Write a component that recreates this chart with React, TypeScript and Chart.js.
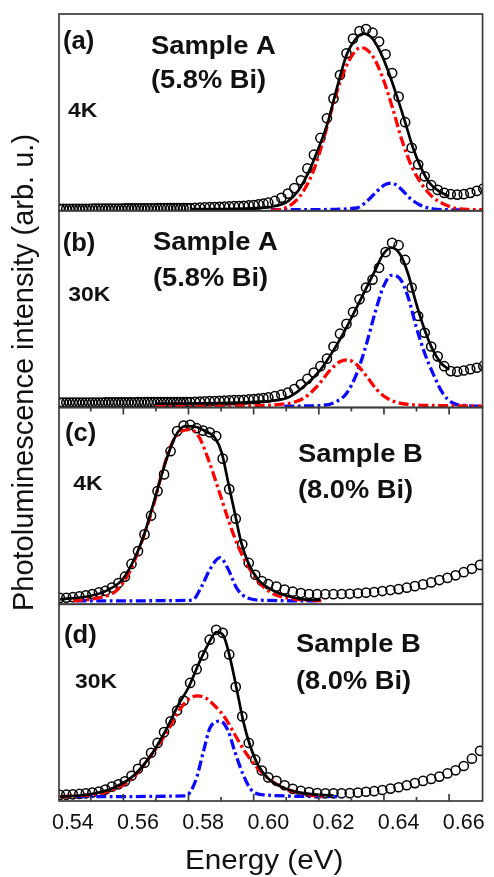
import { useEffect, useRef } from "react";
import { Chart, registerables } from "chart.js";

Chart.register(...registerables);

const SANS = "'Liberation Sans', Arial, Helvetica, sans-serif";

// ---- axis ----
const X_MIN = 0.53575;
const X_MAX = 0.66577;
const X_TICK_LABELS = [0.54, 0.56, 0.58, 0.6, 0.62, 0.64, 0.66];
const MAJOR_TICKS = [0.5555, 0.5755, 0.5955, 0.6155, 0.6355, 0.6555];
const MINOR_TICKS = [0.5455, 0.5655, 0.5855, 0.6055, 0.6255, 0.6455];

// ---- texts ----
const PANEL_LETTERS = ["(a)", "(b)", "(c)", "(d)"];
const SAMPLE_NAMES = ["Sample A", "Sample A", "Sample B", "Sample B"];
const BI_CONTENT = ["(5.8% Bi)", "(5.8% Bi)", "(8.0% Bi)", "(8.0% Bi)"];
const TEMPS = ["4K", "30K", "4K", "30K"];
const X_TITLE = "Energy (eV)";
const Y_TITLE = "Photoluminescence intensity (arb. u.)";

// ---- Sample A measured data (circles) ----
const energyA = [
  0.536, 0.537, 0.538, 0.539, 0.54, 0.541, 0.542, 0.543, 0.544, 0.545,
  0.546, 0.547, 0.548, 0.549, 0.55, 0.551, 0.552, 0.553, 0.554, 0.555,
  0.556, 0.557, 0.558, 0.559, 0.56, 0.561, 0.562, 0.563, 0.564, 0.565,
  0.566, 0.567, 0.568, 0.569, 0.57, 0.571, 0.572, 0.573, 0.574, 0.575, 0.576,
  0.5775, 0.579, 0.5805, 0.582, 0.5835, 0.585, 0.5865, 0.588, 0.5895, 0.591,
  0.5925, 0.594, 0.5955, 0.597, 0.5985, 0.6,
  0.602, 0.604, 0.606, 0.608, 0.61, 0.612, 0.614, 0.616, 0.618, 0.62,
  0.622, 0.624, 0.626, 0.628, 0.63, 0.632, 0.634, 0.636, 0.638, 0.64,
  0.642, 0.644, 0.646, 0.648, 0.65, 0.652, 0.654, 0.656, 0.658, 0.66,
  0.662, 0.664, 0.666,
];
const pl_A_4K = [
  1.0, 1.0, 1.0, 1.0, 1.0, 1.0, 1.0, 1.0, 1.0, 1.0,
  1.1, 1.1, 1.1, 1.1, 1.1, 1.1, 1.1, 1.1, 1.1, 1.1,
  1.2, 1.2, 1.2, 1.2, 1.2, 1.2, 1.2, 1.2, 1.2, 1.2,
  1.3, 1.3, 1.3, 1.3, 1.3, 1.3, 1.4, 1.4, 1.4, 1.4, 1.4,
  1.5, 1.6, 1.7, 1.8, 1.9, 2.0, 2.1, 2.2, 2.3, 2.4,
  2.5, 2.7, 2.9, 3.2, 3.6, 4.1,
  5.0, 6.6, 8.7, 11.5, 15.5, 21.5, 28.5, 37, 47, 57,
  69, 80, 87.5, 91.3, 92.3, 90.5, 86, 79.5, 70, 58,
  45, 32, 23.5, 17.5, 13, 10.6, 9.1, 8.4, 8.2, 8.4,
  9.1, 10.1, 11.3,
];
const pl_A_30K = [
  2.5, 2.5, 2.5, 2.5, 2.5, 2.5, 2.5, 2.5, 2.5, 2.5,
  2.5, 2.5, 2.5, 2.5, 2.6, 2.6, 2.6, 2.6, 2.6, 2.6,
  2.6, 2.6, 2.6, 2.6, 2.7, 2.7, 2.7, 2.7, 2.7, 2.7,
  2.7, 2.7, 2.7, 2.7, 2.8, 2.8, 2.8, 2.8, 2.8, 2.8, 2.8,
  2.9, 3.0, 3.1, 3.2, 3.3, 3.4, 3.5, 3.6, 3.7, 3.8,
  3.9, 4.1, 4.3, 4.5, 4.8, 5.1,
  5.8, 6.5, 7.6, 9.4, 11.8, 14.5, 17.8, 21, 24.8, 31,
  37.5, 42.5, 48.5, 55, 61, 65, 71, 79, 83.7, 82.5,
  75, 61, 46.5, 38, 31, 26, 21, 18.5, 18.2, 18.8,
  19.5, 20.2, 21,
];

// ---- Sample B measured data (circles) ----
const energyB = [
  0.536, 0.538, 0.54, 0.542, 0.544, 0.546, 0.548, 0.55, 0.552, 0.554,
  0.556, 0.558, 0.56, 0.562, 0.564, 0.566, 0.568, 0.57, 0.572, 0.574,
  0.576, 0.578, 0.58, 0.582, 0.584, 0.586, 0.588, 0.59, 0.592, 0.594,
  0.596, 0.598, 0.6, 0.6025, 0.605, 0.6075, 0.61, 0.6125, 0.615, 0.6175,
  0.62, 0.6225, 0.625, 0.6275, 0.63, 0.6325, 0.635, 0.6375, 0.64, 0.6425,
  0.645, 0.6475, 0.65, 0.6525, 0.655, 0.6575, 0.66, 0.6625, 0.665,
];
const pl_B_4K = [
  3.2, 3.3, 3.6, 4.0, 4.5, 5.2, 6.0, 6.8, 8.5, 10.8,
  14, 20.5, 27, 35.5, 45, 57.5, 66, 77.8, 88, 90.8,
  91.2, 89.5, 88.2, 87.4, 85.5, 74, 58.5, 43.5, 30.5, 21,
  15, 11.8, 10.2, 9.0, 7.5, 6.4, 5.7, 5.2, 5.1, 5.1,
  5.1, 5.2, 5.3, 5.6, 5.9, 6.2, 6.7, 7.2, 7.7, 8.4,
  9.2, 10.1, 11.1, 12.3, 13.4, 14.7, 16.3, 18.0, 20.0,
];
const pl_B_30K = [
  3.1, 3.2, 3.4, 3.6, 3.9, 4.3, 4.8, 5.8, 7.3, 8.5,
  10.0, 12.8, 16.4, 19.5, 24.5, 29.5, 35, 40.5, 46, 51,
  60, 67, 74, 82, 87, 85.5, 74.5, 58, 43, 29.5,
  21, 15.5, 12, 10.3, 8.0, 6.2, 5.1, 4.5, 4.0, 3.9,
  3.9, 3.9, 4.0, 4.3, 4.7, 5.0, 5.6, 6.3, 7.0, 8.0,
  9.1, 10.2, 11.2, 12.4, 14.0, 15.6, 17.8, 21.5, 25.5,
];

// ---- fits: total (black), component 1 (red), component 2 (blue) ----
const fitA4K_x = [0.5765, 0.59, 0.598, 0.6009, 0.6059, 0.609, 0.612, 0.615, 0.6181, 0.6211, 0.6241, 0.6267, 0.6292, 0.6317, 0.6343, 0.6368, 0.6393, 0.6419, 0.6444, 0.6469, 0.6495, 0.6525, 0.6555];
const fitA4K_y = [0.8, 1.0, 1.5, 2.0, 4.7, 9.8, 18.4, 30, 44, 62.6, 79.6, 87, 90, 88, 81, 71, 59, 45.6, 32, 21.8, 14.1, 9.8, 7.3];
const redA4K_x = [0.6008, 0.6036, 0.6077, 0.6107, 0.6138, 0.6168, 0.6199, 0.6229, 0.626, 0.6285, 0.632, 0.6351, 0.6381, 0.6411, 0.6442, 0.6472, 0.6502, 0.6543, 0.6583, 0.6658];
const redA4K_y = [0.3, 0.6, 3.9, 9.8, 20, 35.4, 54, 69.4, 79.6, 83, 78.7, 67.7, 52.4, 35.4, 21.8, 13.3, 7.3, 3.1, 1.0, 0.5];
const blueA4K_x = [0.6008, 0.615, 0.6272, 0.6302, 0.6333, 0.6358, 0.6378, 0.6404, 0.6434, 0.6464, 0.6505, 0.6555, 0.6615];
const blueA4K_y = [0.5, 0.6, 1.4, 4.7, 9.8, 13.3, 14.1, 11.6, 6.5, 3.1, 1.0, 0.5, 0.4];

const fitA30K_x = [0.5654, 0.585, 0.598, 0.6009, 0.6059, 0.611, 0.616, 0.6201, 0.6241, 0.6282, 0.6323, 0.6353, 0.6378, 0.6404, 0.6429, 0.6454, 0.648, 0.6505, 0.653, 0.6555];
const fitA30K_y = [2.0, 2.2, 3.0, 3.4, 4.9, 10.8, 19.2, 29.3, 41, 54.5, 68, 78, 81.2, 78, 68, 52.9, 39.4, 29.3, 22.6, 19.2];
const redA30K_x = [0.5654, 0.59, 0.6059, 0.611, 0.615, 0.6191, 0.6221, 0.6243, 0.6272, 0.6302, 0.6333, 0.6363, 0.6393, 0.6434, 0.6515, 0.6657];
const redA30K_y = [0.5, 0.8, 2.0, 4.9, 10.8, 19.2, 23.4, 24.2, 21.7, 15.8, 9.1, 4.9, 2.7, 1.5, 1.0, 0.7];
const blueA30K_x = [0.6049, 0.616, 0.6211, 0.6241, 0.6272, 0.6302, 0.6327, 0.6353, 0.6378, 0.6404, 0.6429, 0.6454, 0.648, 0.6505, 0.6535, 0.6565, 0.6606, 0.6657];
const blueA30K_y = [0.7, 1.0, 3.2, 7.4, 17.5, 32.7, 47.8, 61.3, 67.2, 65.5, 56.2, 41, 27.6, 17.5, 7.4, 2.4, 1.0, 0.7];

const fitB4K_x = [0.5361, 0.5452, 0.5502, 0.5553, 0.5593, 0.5624, 0.5654, 0.5684, 0.5715, 0.5745, 0.5776, 0.5806, 0.5836, 0.5857, 0.5877, 0.5897, 0.5917, 0.5938, 0.5968, 0.6008, 0.6059, 0.6109, 0.616];
const fitB4K_y = [2.5, 4.2, 6.8, 12.7, 24.5, 38, 55, 72, 85.4, 90.5, 90.2, 88, 84.6, 77, 61.8, 46.5, 31.3, 21.2, 12.7, 7.6, 4.2, 2.5, 2.2];
const redB4K_x = [0.5401, 0.5482, 0.5533, 0.5573, 0.5614, 0.5644, 0.5674, 0.5705, 0.5735, 0.576, 0.5786, 0.5816, 0.5847, 0.5877, 0.5907, 0.5938, 0.5968, 0.6008, 0.6069, 0.6165];
const redB4K_y = [1.7, 3.4, 6.8, 16.1, 33, 48.2, 66.8, 82, 88, 88.8, 85.4, 73.6, 58.4, 43.1, 29.6, 19.4, 11.8, 5.9, 2.9, 1.7];
const blueB4K_x = [0.5411, 0.5765, 0.5796, 0.5821, 0.5852, 0.5877, 0.5902, 0.5933, 0.5988, 0.615];
const blueB4K_y = [1.7, 2.0, 9.3, 17.8, 23.7, 17.8, 8.5, 3.4, 2.0, 1.7];

const fitB30K_x = [0.5361, 0.5452, 0.5522, 0.5583, 0.5634, 0.5684, 0.5725, 0.5755, 0.5786, 0.5816, 0.5841, 0.5862, 0.5882, 0.5902, 0.5923, 0.5943, 0.5968, 0.5999, 0.6039, 0.609, 0.616, 0.6201];
const fitB30K_y = [2.2, 3.4, 6.5, 12.4, 21.9, 35.5, 49.2, 57.7, 69.6, 79.9, 85.9, 84.1, 73.1, 57.7, 40.6, 28.7, 18.4, 11.6, 7.3, 4.5, 3.1, 2.8];
const redB30K_x = [0.5361, 0.5452, 0.5522, 0.5583, 0.5634, 0.5684, 0.5725, 0.5755, 0.5781, 0.5806, 0.5836, 0.5867, 0.5897, 0.5928, 0.5958, 0.5999, 0.6049, 0.611, 0.617];
const redB30K_y = [2.2, 3.1, 5.6, 11.6, 21.9, 33.8, 45.7, 51.7, 53.4, 52.6, 48.3, 42.3, 33.8, 25.2, 18.4, 11.6, 6.5, 3.6, 2.2];
const blueB30K_x = [0.5411, 0.5745, 0.5776, 0.5801, 0.5821, 0.5852, 0.5877, 0.5897, 0.5923, 0.5948, 0.5988, 0.6211];
const blueB30K_y = [2.2, 2.6, 9.9, 25.2, 37.2, 40.6, 35.5, 25.2, 13.3, 5.6, 3.1, 2.2];

function pts(xs: number[], ys: number[]) {
  return xs.map((x, i) => ({ x, y: ys[i] }));
}

const TEXT_COLOR = "#111111";
const FRAME_COLOR = "#3c3c3c";

function drawText(ctx: CanvasRenderingContext2D, text: string, x: number, y: number, font: string, sx = 1) {
  ctx.save();
  ctx.font = font;
  ctx.textAlign = "left";
  ctx.textBaseline = "alphabetic";
  ctx.fillStyle = TEXT_COLOR;
  ctx.translate(x, y);
  ctx.scale(sx, 1);
  ctx.fillText(text, 0, 0);
  ctx.restore();
}

const overlayPlugin = {
  id: "overlay",
  afterDatasetsDraw(chart: any) {
    const ctx: CanvasRenderingContext2D = chart.ctx;
    const { left, right } = chart.chartArea;
    const ids = ["ya", "yb", "yc", "yd"];
    ctx.save();
    ctx.strokeStyle = FRAME_COLOR;
    ctx.lineWidth = 1.7;
    ids.forEach((id) => {
      const s = chart.scales[id];
      ctx.strokeRect(left, s.top, right - left, s.bottom - s.top);
    });
    const xs = chart.scales.x;
    const topC = chart.scales.yc.top;
    const botD = chart.scales.yd.bottom;
    const tick = (v: number, len: number) => {
      const px = xs.getPixelForValue(v);
      ctx.beginPath();
      ctx.moveTo(px, topC);
      ctx.lineTo(px, topC + len);
      ctx.moveTo(px, botD);
      ctx.lineTo(px, botD - len);
      ctx.stroke();
    };
    MAJOR_TICKS.forEach((v) => tick(v, 7));
    MINOR_TICKS.forEach((v) => tick(v, 4));
    ctx.restore();

    const bigB = `bold 25.6px ${SANS}`;
    const tempB = `bold 20.5px ${SANS}`;
    // panel annotations [letterX, letterY, sampleX, sampleY, biY, tempX, tempY]
    const pos = [
      [63, 48.5, 151, 53.5, 87.5, 68, 116.7],
      [62.7, 250.5, 153, 250, 286, 68.3, 301],
      [65, 441, 298, 461.7, 497.5, 73.3, 490],
      [64, 642.5, 296, 651.7, 689.3, 75, 688.3],
    ];
    pos.forEach((p, i) => {
      drawText(ctx, PANEL_LETTERS[i], p[0], p[1], bigB, 1);
      drawText(ctx, SAMPLE_NAMES[i], p[2], p[3], bigB, 1.07);
      drawText(ctx, BI_CONTENT[i], p[2], p[4], bigB, 1.065);
      drawText(ctx, TEMPS[i], p[5], p[6], tempB, 1.12);
    });

    // axis titles
    drawText(ctx, X_TITLE, 185, 869.3, `27px ${SANS}`, 1.1);
    ctx.save();
    ctx.font = `29px ${SANS}`;
    ctx.fillStyle = TEXT_COLOR;
    ctx.textAlign = "center";
    ctx.textBaseline = "alphabetic";
    ctx.translate(33, 372.5);
    ctx.rotate(-Math.PI / 2);
    ctx.fillText(Y_TITLE, 0, 0);
    ctx.restore();
  },
};

export default function App() {
  const ref = useRef<HTMLCanvasElement>(null);

  useEffect(() => {
    if (!ref.current) return;
    const panels = [
      { id: "ya", e: energyA, d: pl_A_4K, fx: fitA4K_x, fy: fitA4K_y, rx: redA4K_x, ry: redA4K_y, bx: blueA4K_x, by: blueA4K_y },
      { id: "yb", e: energyA, d: pl_A_30K, fx: fitA30K_x, fy: fitA30K_y, rx: redA30K_x, ry: redA30K_y, bx: blueA30K_x, by: blueA30K_y },
      { id: "yc", e: energyB, d: pl_B_4K, fx: fitB4K_x, fy: fitB4K_y, rx: redB4K_x, ry: redB4K_y, bx: blueB4K_x, by: blueB4K_y },
      { id: "yd", e: energyB, d: pl_B_30K, fx: fitB30K_x, fy: fitB30K_y, rx: redB30K_x, ry: redB30K_y, bx: blueB30K_x, by: blueB30K_y },
    ];
    const datasets: any[] = [];
    panels.forEach((p) => {
      datasets.push({
        data: pts(p.fx, p.fy), yAxisID: p.id, borderColor: "#000", borderWidth: 2.7,
        pointRadius: 0, cubicInterpolationMode: "monotone", fill: false, order: 0,
      });
      datasets.push({
        data: pts(p.rx, p.ry), yAxisID: p.id, borderColor: "#ff0000", borderWidth: 3.3,
        borderDash: [10, 3.5, 2.8, 3.5], borderCapStyle: "butt",
        pointRadius: 0, cubicInterpolationMode: "monotone", fill: false, order: 1,
      });
      datasets.push({
        data: pts(p.bx, p.by), yAxisID: p.id, borderColor: "#0a0aff", borderWidth: 3.3,
        borderDash: [10, 3.5, 2.8, 3.5], borderCapStyle: "butt",
        pointRadius: 0, cubicInterpolationMode: "monotone", fill: false, order: 2,
      });
      datasets.push({
        data: pts(p.e, p.d), yAxisID: p.id, showLine: false,
        pointRadius: 4.6, pointBorderWidth: 1.5, pointBorderColor: "#000",
        pointBackgroundColor: "rgba(0,0,0,0)", pointStyle: "circle", order: 3,
      });
    });

    const yAxis = () => ({
      type: "linear", position: "left", stack: "panels", stackWeight: 1,
      min: 0, max: 100,
      ticks: { display: false },
      grid: { display: false, drawTicks: false },
      border: { display: false },
      afterFit: (s: any) => { s.width = 0; },
    });

    const chart = new Chart(ref.current, {
      type: "line",
      data: { datasets },
      options: {
        responsive: false,
        animation: false,
        events: [],
        layout: { padding: { left: 59, right: 7, top: 14, bottom: 41 } },
        plugins: { legend: { display: false }, tooltip: { enabled: false } },
        scales: {
          x: {
            type: "linear", position: "bottom", min: X_MIN, max: X_MAX,
            afterBuildTicks: (s: any) => { s.ticks = X_TICK_LABELS.map((v) => ({ value: v })); },
            afterFit: (s: any) => { s.height = 35; },
            ticks: {
              callback: (v: any) => Number(v).toFixed(2),
              font: { family: SANS, size: 21.5 }, color: TEXT_COLOR,
              padding: 9, autoSkip: false, maxRotation: 0, minRotation: 0,
            },
            grid: { display: false, drawTicks: false },
            border: { display: false },
          },
          yd: yAxis(),
          yc: yAxis(),
          yb: yAxis(),
          ya: yAxis(),
        },
      } as any,
      plugins: [overlayPlugin],
    } as any);
    return () => chart.destroy();
  }, []);

  return (
    <div style={{ position: "fixed", left: 0, top: 0, width: 494, height: 877, background: "#fff" }}>
      <canvas ref={ref} width={494} height={877} style={{ width: 494, height: 877, display: "block" }} />
    </div>
  );
}
